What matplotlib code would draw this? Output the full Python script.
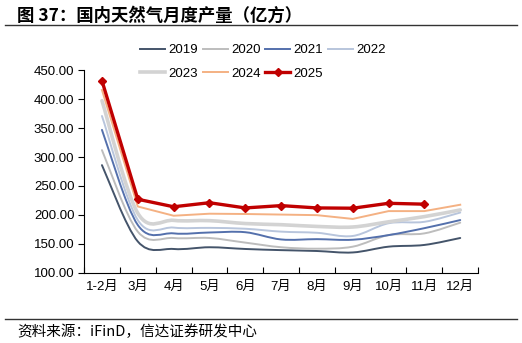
import numpy as np
import matplotlib
matplotlib.use("Agg")
import matplotlib.pyplot as plt
from matplotlib.path import Path
from matplotlib.patches import PathPatch
from matplotlib.lines import Line2D

plt.rcParams['font.family'] = ['Liberation Sans', 'Noto Sans CJK SC', 'DejaVu Sans']

months = ['1-2月', '3月', '4月', '5月', '6月', '7月', '8月', '9月', '10月', '11月', '12月']
y2019 = [286, 154, 141, 144, 141, 139, 137.5, 135, 145, 148, 160]
y2020 = [312, 171, 160, 160, 152, 144, 141.5, 145, 165, 168, 186.5]
y2021 = [347, 182.5, 168, 169.5, 170, 157.5, 158, 157, 165, 177, 191]
y2022 = [371, 191, 178, 177.5, 176, 171, 169, 163.5, 185.5, 188, 204]
y2023 = [397.5, 203, 190.5, 190, 185, 183, 180, 179, 188, 197, 208.5]
y2024 = [416, 214.5, 198.5, 202, 201.5, 200.5, 199.5, 193, 206.5, 206.5, 217.5]
y2025 = [432, 227, 214, 221, 212, 216, 212, 211.5, 220, 218.5]

yticks = [100, 150, 200, 250, 300, 350, 400, 450]


def smooth_path(xs, ys):
    # Excel-like smoothed line: Catmull-Rom segments as cubic Beziers
    p = np.column_stack([xs, ys]).astype(float)
    n = len(p)
    verts = [p[0]]
    codes = [Path.MOVETO]
    for i in range(n - 1):
        p0 = p[i - 1] if i > 0 else p[i]
        p3 = p[i + 2] if i + 2 < n else p[i + 1]
        c1 = p[i] + (p[i + 1] - p0) / 6
        c2 = p[i + 1] - (p3 - p[i]) / 6
        verts += [c1, c2, p[i + 1]]
        codes += [Path.CURVE4] * 3
    return Path(verts, codes)


fig = plt.figure(figsize=(5.22, 3.43), dpi=100)
ax = fig.add_axes([0.161, 0.205, 0.755, 0.59])

x = np.arange(len(months))
smooth_series = [
    ('2019', y2019, '#44546A', 1.4),
    ('2020', y2020, '#BDBDBD', 1.4),
    ('2021', y2021, '#5470AC', 1.4),
    ('2022', y2022, '#B8C5DC', 1.4),
    ('2023', y2023, '#D3D3D3', 2.6),
]
handles = {}
for name, vals, col, lw in smooth_series:
    patch = PathPatch(smooth_path(x[:len(vals)], vals), facecolor='none',
                      edgecolor=col, lw=lw, capstyle='round', joinstyle='round')
    ax.add_patch(patch)
    handles[name] = Line2D([], [], color=col, lw=lw)

l24, = ax.plot(x[:len(y2024)], y2024, color='#F4B183', lw=1.4)
handles['2024'] = l24
l25, = ax.plot(x[:len(y2025)], y2025, color='#C00000', lw=2.4,
               marker='D', markersize=4.5)
handles['2025'] = l25

ax.set_xlim(-0.5, len(months) - 0.5)
ax.set_ylim(100, 450)
ax.set_yticks(yticks)
ax.set_yticklabels([f'{v:.2f}' for v in yticks])
ax.set_xticks(np.arange(-0.5, len(months), 1.0))
ax.set_xticklabels([])
ax.set_xticks(x, minor=True)
ax.set_xticklabels(months, minor=True)
ax.tick_params(axis='x', which='major', direction='in', length=4, width=0.8)
ax.tick_params(axis='x', which='minor', length=0, pad=6, labelsize=9.5)
ax.tick_params(axis='y', direction='out', length=4, width=0.8, labelsize=9.5, pad=3)
for s in ['top', 'right']:
    ax.spines[s].set_visible(False)
for s in ['left', 'bottom']:
    ax.spines[s].set_linewidth(0.8)

order = ['2019', '2023', '2020', '2024', '2021', '2025', '2022']
fig.legend([handles[k] for k in order], order, ncol=4, frameon=False,
           loc='upper left', bbox_to_anchor=(0.268, 0.872), fontsize=9.5,
           handlelength=1.9, handletextpad=0.25, columnspacing=0.35,
           labelspacing=0.85, borderpad=0, borderaxespad=0)

fig.text(0.033, 0.955, '图 37：国内天然气月度产量（亿方）', fontsize=12.5,
         fontweight='bold', family=['Noto Sans CJK SC'], va='center', ha='left')
fig.add_artist(Line2D([0.01, 0.99], [0.927, 0.927], color='#333333', lw=1.0,
                      transform=fig.transFigure))
fig.add_artist(Line2D([0.01, 0.99], [0.07, 0.07], color='#333333', lw=1.0,
                      transform=fig.transFigure))
fig.text(0.033, 0.033, '资料来源：iFinD，信达证券研发中心', fontsize=10.5,
         style='italic', family=['Noto Sans CJK SC'], va='center', ha='left')

fig.savefig('out.png', dpi=100)
